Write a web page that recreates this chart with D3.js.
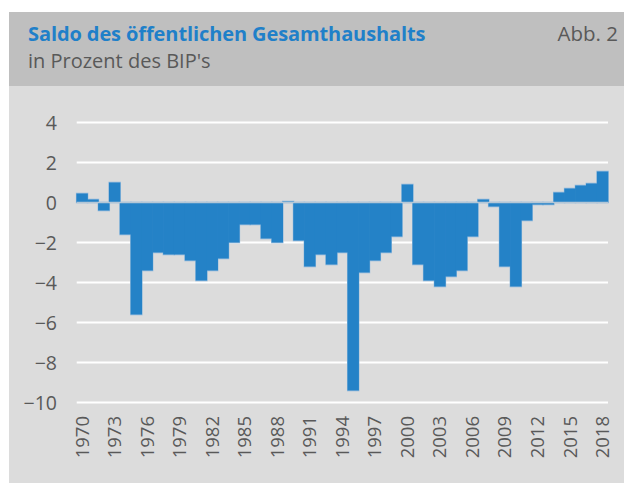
<!DOCTYPE html>
<html>
<head>
<meta charset="utf-8">
<script src="https://cdn.jsdelivr.net/npm/d3@7"></script>
<style>
  html, body { margin: 0; padding: 0; background: #ffffff; }
  svg { display: block; }
</style>
</head>
<body>
<svg id="chart" width="624" height="483"></svg>
<script>
// ---- data ----
const years = [1970,1971,1972,1973,1974,1975,1976,1977,1978,1979,
               1980,1981,1982,1983,1984,1985,1986,1987,1988,1989,
               1990,1991,1992,1993,1994,1995,1996,1997,1998,1999,
               2000,2001,2002,2003,2004,2005,2006,2007,2008,2009,
               2010,2011,2012,2013,2014,2015,2016,2017,2018];
const saldo = [0.45,0.15,-0.4,1.0,-1.6,-5.6,-3.4,-2.5,-2.6,-2.6,
               -2.9,-3.9,-3.4,-2.8,-2.0,-1.1,-1.1,-1.8,-2.0,0.05,
               -1.9,-3.2,-2.6,-3.1,-2.5,-9.4,-3.5,-2.9,-2.5,-1.7,
               0.9,-3.1,-3.9,-4.2,-3.7,-3.4,-1.7,0.15,-0.2,-3.2,
               -4.2,-0.9,-0.1,-0.1,0.5,0.7,0.85,0.95,1.55];
const yTicks = [4,2,0,-2,-4,-6,-8,-10];
const xTickLabels = [1970,1973,1976,1979,1982,1985,1988,1991,1994,1997,2000,2003,2006,2009,2012,2015,2018];
const title = "Saldo des öffentlichen Gesamthaushalts";
const subtitle = "in Prozent des BIP's";
const figLabel = "Abb. 2";

// ---- layout ----
const svg = d3.select("#chart");
const font = "'Open Sans', sans-serif";
const textColor = "#595959";

svg.append("rect").attr("x", 9).attr("y", 12).attr("width", 615).attr("height", 74).attr("fill", "#bfbfbf");
svg.append("rect").attr("x", 9).attr("y", 86).attr("width", 615).attr("height", 397).attr("fill", "#dcdcdc");

svg.append("text").attr("x", 28).attr("y", 41).text(title)
  .attr("font-family", font).attr("font-weight", 700).attr("font-size", 20)
  .attr("letter-spacing", -0.1).attr("fill", "#1f80c9");
svg.append("text").attr("x", 28).attr("y", 68).text(subtitle)
  .attr("font-family", font).attr("font-size", 20).attr("fill", textColor);
svg.append("text").attr("x", 618).attr("y", 41).attr("text-anchor", "end").text(figLabel)
  .attr("font-family", font).attr("font-size", 20.5).attr("fill", textColor);

const x = d3.scaleBand().domain(years).range([76.7, 608]).padding(0);
const y = d3.scaleLinear().domain([-10, 4]).range([402.5, 122.5]);

// gridlines
svg.append("g").selectAll("line").data(yTicks.filter(d => d !== 0)).join("line")
  .attr("x1", 76.7).attr("x2", 608)
  .attr("y1", d => y(d)).attr("y2", d => y(d))
  .attr("stroke", "#ffffff").attr("stroke-width", 2);

// y axis labels
const yAxis = d3.axisLeft(y).tickValues(yTicks).tickSize(0).tickPadding(0).tickFormat(d3.format("d"));
const gy = svg.append("g").attr("transform", "translate(57,0)").call(yAxis);
gy.select(".domain").remove();
gy.selectAll("text").attr("font-family", font).attr("font-size", 19.5).attr("fill", textColor)
  .attr("dy", "0.35em");

// bars: outline layer, then fill layer on top (so only outer edges show the light outline)
const barY = (d, i) => y(Math.max(0, saldo[i]));
const barH = (d, i) => Math.abs(y(saldo[i]) - y(0));
svg.append("g").selectAll("rect").data(years).join("rect")
  .attr("x", d => x(d)).attr("width", x.bandwidth())
  .attr("y", barY).attr("height", barH)
  .attr("fill", "#2482c7").attr("stroke", "#98bcdc").attr("stroke-width", 1.6);
svg.append("g").selectAll("rect").data(years).join("rect")
  .attr("x", d => x(d) - 0.3).attr("width", x.bandwidth() + 0.6)
  .attr("y", barY).attr("height", barH)
  .attr("fill", "#2482c7");

// zero line
svg.append("line").attr("x1", 76.7).attr("x2", 608).attr("y1", y(0)).attr("y2", y(0))
  .attr("stroke", "#b3c6d6").attr("stroke-width", 1.5);

// x axis labels
const xAxis = d3.axisBottom(x).tickValues(xTickLabels).tickSize(0).tickPadding(0);
const gx = svg.append("g").attr("transform", "translate(0,416)").call(xAxis);
gx.select(".domain").remove();
gx.selectAll("text")
  .attr("font-family", font).attr("font-size", 18.5).attr("fill", textColor)
  .attr("text-anchor", "end").attr("transform", "rotate(-90)")
  .attr("x", 0).attr("y", 0).attr("dx", 0).attr("dy", "0.35em");
</script>
</body>
</html>
